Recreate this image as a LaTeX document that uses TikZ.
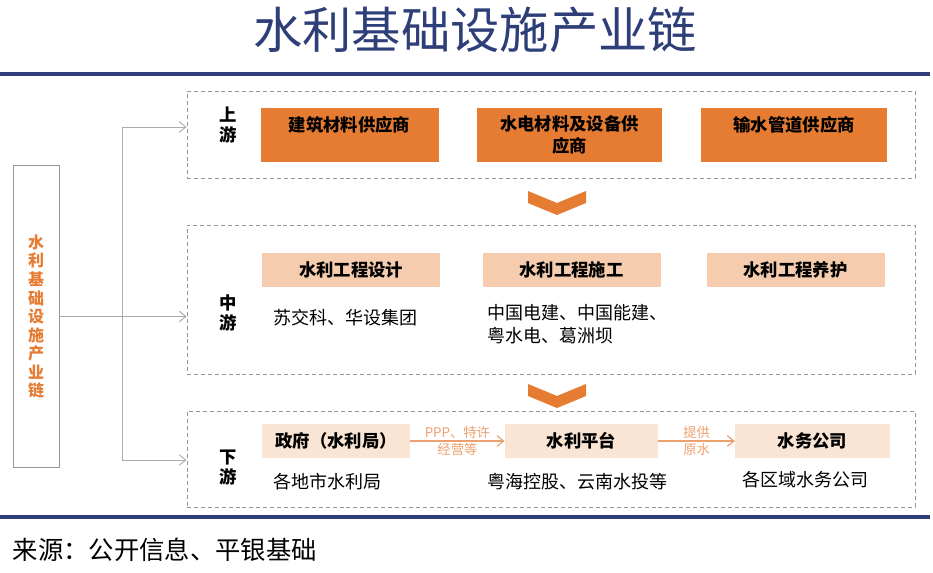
\documentclass[tikz,border=0pt]{standalone}
\usepackage{fontspec}
\setmainfont{Noto Sans CJK SC}
\usepackage{xcolor}
\definecolor{titleblue}{RGB}{45, 62, 120}
\definecolor{deeporange}{RGB}{230, 124, 50}
\definecolor{paleorange}{RGB}{245, 204, 174}
\definecolor{creamorange}{RGB}{250, 228, 212}
\definecolor{labelorange}{RGB}{236, 160, 110}
\definecolor{framegray}{RGB}{150, 150, 150}
\usetikzlibrary{arrows.meta, positioning, calc}

\begin{document}
\begin{tikzpicture}[
    x=0.75pt, y=-0.75pt,
    layer/.style={rectangle, draw=framegray, dash pattern=on 3pt off 2.2pt, line width=0.6pt, minimum width=546pt},
    supplier/.style={rectangle, fill=deeporange, minimum height=40.5pt, align=center, font=\fontsize{13}{16.5}\selectfont\bfseries},
    stage/.style={rectangle, fill=paleorange, minimum width=133.5pt, minimum height=25.5pt, font=\fontsize{13}{15}\selectfont\bfseries},
    player/.style={rectangle, fill=creamorange, minimum height=25.5pt, font=\fontsize{13}{15}\selectfont\bfseries},
    tier/.style={align=center, font=\fontsize{13}{15}\selectfont\bfseries},
    firms/.style={anchor=west, align=left, font=\fontsize{13.5}{17}\selectfont},
    link/.style={draw=framegray!80, line width=0.7pt, -{Straight Barb[length=5pt, width=8pt]}},
    flow/.style={draw=labelorange, line width=0.9pt, -{Straight Barb[length=5pt, width=8pt]}},
    flowtext/.style={text=labelorange, font=\fontsize{10}{12}\selectfont, inner sep=1pt}
]
    \useasboundingbox (0,0) rectangle (933,573);

    % Title and rules
    \node[text=titleblue, font=\fontsize{37}{40}\selectfont] (title) at (475,30) {水利基础设施产业链};
    \draw[titleblue, line width=3pt] (0,74) -- (930,74);
    \draw[titleblue, line width=2.4pt] (0,517) -- (930,517);
    \node[anchor=west, font=\fontsize{19}{22}\selectfont] (source) at (8,550) {来源：公开信息、平银基础};

    % Left box
    \node[rectangle, draw=framegray, line width=0.7pt, minimum width=34.5pt, minimum height=227pt,
          text=deeporange, align=center, font=\fontsize{12}{13.9}\selectfont\bfseries] (chain) at (36,316.5)
          {水\\利\\基\\础\\设\\施\\产\\业\\链};

    % Layers
    \node[layer, minimum height=65.25pt] (up) at (551,134.5) {};
    \node[layer, minimum height=111.75pt] (mid) at (551,299.5) {};
    \node[layer, minimum height=72pt] (down) at (551,459) {};

    % Connectors
    \coordinate (spine) at (122,0);
    \coordinate (upin) at (up.west |- 0,127);
    \coordinate (downin) at (down.west |- 0,460);
    \draw[link] (chain.east) -- (chain.east -| mid.west);
    \draw[link] (spine |- downin) -- (spine |- upin) -- (upin);
    \draw[link] (spine |- downin) -- (downin);

    % Chevrons
    \foreach \cy/\nm in {201/chevA, 394/chevB}{
        \fill[deeporange] (528,\cy-10) -- (557,\cy+2) -- (586,\cy-10) -- (586,\cy+2) -- (557,\cy+14) -- (528,\cy+2) -- cycle;
        \coordinate (\nm) at (557,\cy);
    }

    % Upstream
    \node[tier] (upname) at (228,125) {上\\游};
    \node[supplier, minimum width=133.5pt] (build) at (349.5,135) {建筑材料供应商\\\mbox{}};
    \node[supplier, minimum width=139pt] (power) at (569.5,135) {水电材料及设备供\\应商};
    \node[supplier, minimum width=139.5pt] (pipe) at (794,135) {输水管道供应商\\\mbox{}};

    % Midstream
    \node[tier] (midname) at (228,313) {中\\游};
    \node[stage] (design) at (351,270) {水利工程设计};
    \node[stage] (build2) at (571.5,270) {水利工程施工};
    \node[stage] (care) at (795.5,270) {水利工程养护};
    \node[firms] (designf) at (269,318) {苏交科、华设集团};
    \node[firms] (buildf) at (483,324) {中国电建、中国能建、\\粤水电、葛洲坝};

    % Downstream
    \node[tier] (downname) at (228,468) {下\\游};
    \node[player, minimum width=111pt] (gov) at (336,441) {政府（水利局）};
    \node[player, minimum width=115pt] (plat) at (581.5,441) {水利平台};
    \node[player, minimum width=116pt] (water) at (812.5,441) {水务公司};
    \draw[flow] (gov) -- node[flowtext, above] {PPP、特许} node[flowtext, below] {经营等} (plat);
    \draw[flow] (plat) -- node[flowtext, above] {提供} node[flowtext, below] {原水} (water);
    \node[firms] (govf) at (269,482) {各地市水利局};
    \node[firms] (platf) at (483,482) {粤海控股、云南水投等};
    \node[firms] (waterf) at (738,480) {各区域水务公司};
\end{tikzpicture}
\end{document}
